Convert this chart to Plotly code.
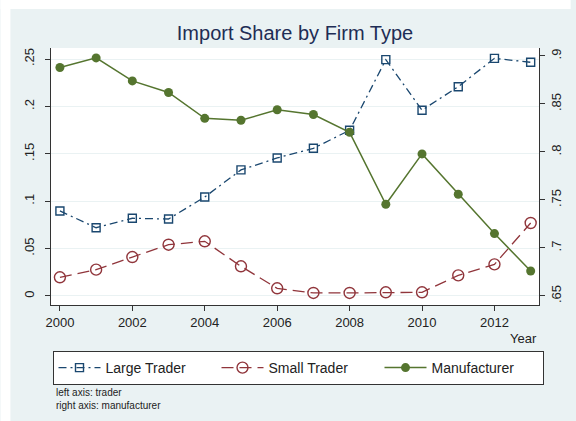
import plotly.graph_objects as go

years = list(range(2000, 2014))
large_trader = [0.0897, 0.072, 0.082, 0.0812, 0.1044, 0.133, 0.1456, 0.1558, 0.1748, 0.2493, 0.196, 0.2208, 0.2507, 0.2465]
small_trader = [0.0197, 0.0278, 0.0411, 0.0541, 0.0577, 0.0313, 0.0081, 0.0032, 0.0032, 0.0039, 0.0039, 0.0218, 0.0334, 0.077]
manufacturer = [0.888, 0.898, 0.874, 0.862, 0.835, 0.833, 0.844, 0.839, 0.8205, 0.7455, 0.798, 0.756, 0.715, 0.676]

left_tickvals = [0, 0.05, 0.1, 0.15, 0.2, 0.25]
left_ticktext = ["0", ".05", ".1", ".15", ".2", ".25"]
right_tickvals = [0.65, 0.7, 0.75, 0.8, 0.85, 0.9]
right_ticktext = [".65", ".7", ".75", ".8", ".85", ".9"]
x_tickvals = [2000, 2002, 2004, 2006, 2008, 2010, 2012]

C_LARGE = "#1a476f"
C_SMALL = "#90353b"
C_MANU = "#55752f"
BG = "#eaf2f3"
FONT = "Liberation Sans, Arial, sans-serif"
AX = "#333333"

fig = go.Figure()
fig.add_trace(go.Scatter(
    x=years, y=large_trader, name="Large Trader", mode="lines+markers",
    line=dict(color=C_LARGE, width=1.3, dash="8px,4px,2px,4px"),
    marker=dict(symbol="square-open", size=8, color=C_LARGE, line=dict(width=1.4)),
    yaxis="y"))
fig.add_trace(go.Scatter(
    x=years, y=small_trader, name="Small Trader", mode="lines+markers",
    line=dict(color=C_SMALL, width=1.3, dash="12px,6px"),
    marker=dict(symbol="circle-open", size=11, color=C_SMALL, line=dict(width=1.4)),
    yaxis="y"))
fig.add_trace(go.Scatter(
    x=years, y=manufacturer, name="Manufacturer", mode="lines+markers",
    line=dict(color=C_MANU, width=1.5),
    marker=dict(symbol="circle", size=9, color=C_MANU),
    yaxis="y2"))

W, H = 576, 421
L, R, T, B = 51, 544, 48, 305
pw, ph = R - L, B - T

def px_x(p):
    return (p - L) / pw

def px_y(p):
    return (B - p) / ph

fig.update_layout(
    width=W, height=H,
    margin=dict(l=L, r=W - R, t=T, b=H - B, pad=0),
    paper_bgcolor=BG, plot_bgcolor="white",
    font=dict(family=FONT, size=13, color="#222222"),
    title=dict(text="Import Share by Firm Type", x=0.5, xref="paper", xanchor="center",
               y=1 - 33 / H, yanchor="middle",
               font=dict(family=FONT, size=20, color="#1e2d55")),
    showlegend=True,
    legend=dict(orientation="h", xref="container", x=298 / W, xanchor="center",
                yref="container", y=1 - 351 / H, yanchor="top",
                bgcolor="white", bordercolor="#333333", borderwidth=1,
                font=dict(family=FONT, size=14, color="#222222"),
                itemwidth=42, entrywidth=106, traceorder="normal"),
    xaxis=dict(range=[1999.754, 2013.23], tickvals=x_tickvals, ticks="outside", ticklen=5,
               tickcolor=AX, showline=True, linecolor=AX, linewidth=1, showgrid=False,
               zeroline=False, tickfont=dict(size=13, color="#222222")),
    yaxis=dict(range=[-0.0095, 0.2616], tickvals=left_tickvals, ticktext=left_ticktext,
               tickangle=-90, ticks="outside", ticklen=5, tickcolor=AX, showline=True,
               linecolor=AX, linewidth=1, showgrid=True, gridcolor=BG, gridwidth=1.2,
               zeroline=False, tickfont=dict(size=13, color="#222222"),
               ticklabelstandoff=6),
    yaxis2=dict(range=[0.6406, 0.9083], tickvals=right_tickvals, ticktext=right_ticktext,
                overlaying="y", side="right", tickangle=-90, ticks="outside", ticklen=5,
                tickcolor=AX, showline=True, linecolor=AX, linewidth=1, showgrid=False,
                zeroline=False, tickfont=dict(size=13, color="#222222")),
    shapes=[
        dict(type="rect", xref="paper", yref="paper", layer="below",
             x0=px_x(0), x1=px_x(W), y0=px_y(0), y1=px_y(9), fillcolor="white",
             line=dict(width=0)),
        dict(type="rect", xref="paper", yref="paper", layer="below",
             x0=px_x(0), x1=px_x(10), y0=px_y(H), y1=px_y(0), fillcolor="white",
             line=dict(width=0)),
    ],
    annotations=[
        dict(text="Year", xref="paper", yref="paper", x=1, xanchor="right",
             y=px_y(338), yanchor="middle", showarrow=False,
             font=dict(family=FONT, size=13, color="#222222")),
        dict(text="left axis: trader<br>right axis: manufacturer", xref="paper", yref="paper",
             x=px_x(54), xanchor="left", y=px_y(385), yanchor="top", align="left",
             showarrow=False, font=dict(family=FONT, size=10, color="#222222")),
    ],
)

fig.write_html("out.html", config={"displayModeBar": False},
               post_script="document.body.style.margin='0';document.body.style.padding='0';")
